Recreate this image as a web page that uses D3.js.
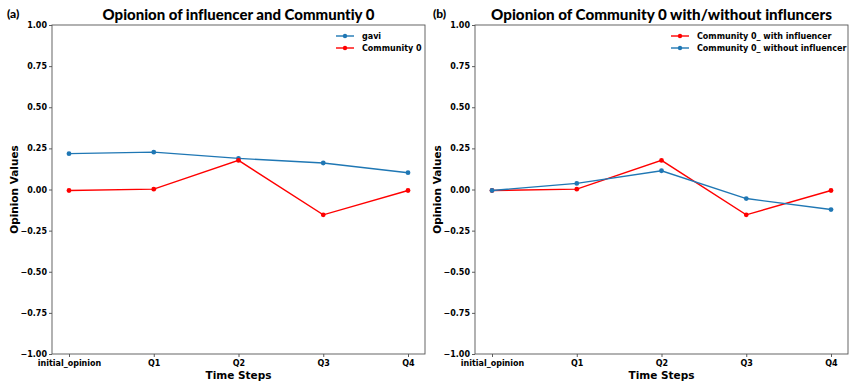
<!DOCTYPE html>
<html>
<head>
<meta charset="utf-8">
<script src="https://cdn.jsdelivr.net/npm/d3@7"></script>
<style>
  html, body { margin: 0; padding: 0; background: #fff; }
  svg { display: block; }
  text { font-variant-ligatures: none; font-feature-settings: "liga" 0, "clig" 0; }
  .tick text { font-family: "DejaVu Sans", sans-serif; font-weight: bold; font-size: 8px; fill: #000; }
</style>
</head>
<body>
<svg id="chart" width="853" height="383"></svg>
<script>
// Time steps on the x axis
const steps = ["initial_opinion", "Q1", "Q2", "Q3", "Q4"];
const yTicks = [-1.00, -0.75, -0.50, -0.25, 0.00, 0.25, 0.50, 0.75, 1.00];

// Panel (a): influencer vs community
const gavi = [0.218, 0.227, 0.189, 0.161, 0.102];
const community0 = [-0.006, 0.002, 0.177, -0.154, -0.006];

// Panel (b): community with / without influencers
const withInfluencer = [-0.006, 0.002, 0.177, -0.154, -0.006];
const withoutInfluencer = [-0.006, 0.037, 0.114, -0.055, -0.122];

const BLUE = "#1f77b4", RED = "#ff0000";

const svg = d3.select("#chart");

function drawPanel(cfg) {
  const { left, right, top, bottom, tag, tagX, title, titleWidth, series } = cfg;
  const g = svg.append("g");

  const x = d3.scalePoint().domain(steps).range([left + 17, right - 17]);
  const y = d3.scaleLinear().domain([-1, 1]).range([bottom, top]);

  // axes
  const xAxis = g.append("g").attr("transform", `translate(0,${bottom})`)
    .call(d3.axisBottom(x).tickSize(3).tickPadding(3));
  const yAxis = g.append("g").attr("transform", `translate(${left},0)`)
    .call(d3.axisLeft(y).tickValues(yTicks).tickSize(3).tickPadding(2)
      .tickFormat(d => d3.format(".2f")(d).replace("-", "\u2212")));
  [xAxis, yAxis].forEach(a => {
    a.select(".domain").remove();
    a.selectAll(".tick line").attr("stroke", "#333").attr("stroke-width", 0.8);
  });

  // frame
  g.append("rect").attr("x", left).attr("y", top)
    .attr("width", right - left).attr("height", bottom - top)
    .attr("fill", "none").attr("stroke", "#555").attr("stroke-width", 0.9);

  // series lines and markers
  const line = d3.line().x((d, i) => x(steps[i])).y(d => y(d));
  series.forEach(s => {
    g.append("path").datum(s.values).attr("d", line)
      .attr("fill", "none").attr("stroke", s.color).attr("stroke-width", 1.4);
    g.selectAll(null).data(s.values).enter().append("circle")
      .attr("cx", (d, i) => x(steps[i])).attr("cy", d => y(d))
      .attr("r", 2.4).attr("fill", s.color);
  });

  // legend
  const lgX = cfg.legendX, lgY = top + 11;
  series.forEach((s, i) => {
    const yy = lgY + i * 12;
    g.append("line").attr("x1", lgX).attr("x2", lgX + 18).attr("y1", yy).attr("y2", yy)
      .attr("stroke", s.color).attr("stroke-width", 1.4);
    g.append("circle").attr("cx", lgX + 9).attr("cy", yy).attr("r", 2.2).attr("fill", s.color);
    g.append("text").attr("x", lgX + 26).attr("y", yy + 3)
      .attr("font-family", "DejaVu Sans, sans-serif").attr("font-weight", "bold")
      .attr("font-size", 8).text(s.name);
  });

  // title, sized so it spans the given width
  const t = g.append("text").attr("x", (left + right) / 2).attr("y", 20)
    .attr("text-anchor", "middle").attr("font-family", "Lato, sans-serif")
    .attr("font-weight", 900).attr("font-size", 16).text(title);
  const w = t.node().getComputedTextLength();
  t.attr("font-size", 16 * titleWidth / w);

  g.append("text").attr("x", tagX).attr("y", 18)
    .attr("font-family", "Lato, sans-serif").attr("font-weight", 900)
    .attr("font-size", 12).text(tag);
  g.append("text").attr("x", (left + right) / 2).attr("y", bottom + 25)
    .attr("text-anchor", "middle").attr("font-family", "DejaVu Sans, sans-serif")
    .attr("font-weight", "bold").attr("font-size", 10.5).text("Time Steps");
  g.append("text")
    .attr("transform", `translate(${left - 34},${(top + bottom) / 2}) rotate(-90)`)
    .attr("text-anchor", "middle").attr("font-family", "DejaVu Sans, sans-serif")
    .attr("font-weight", "bold").attr("font-size", 10.5).text("Opinion Values");
}

drawPanel({
  left: 52, right: 425, top: 25, bottom: 354,
  tag: "(a)", tagX: 7,
  title: "Opionion of influencer and Communtiy 0", titleWidth: 272,
  legendX: 336,
  series: [
    { name: "gavi", color: BLUE, values: gavi },
    { name: "Community 0", color: RED, values: community0 }
  ]
});

drawPanel({
  left: 475, right: 848, top: 25, bottom: 354,
  tag: "(b)", tagX: 433,
  title: "Opionion of Community 0 with/without influncers", titleWidth: 341,
  legendX: 671,
  series: [
    { name: "Community 0_ with influencer", color: RED, values: withInfluencer },
    { name: "Community 0_ without influencer", color: BLUE, values: withoutInfluencer }
  ]
});
</script>
</body>
</html>
